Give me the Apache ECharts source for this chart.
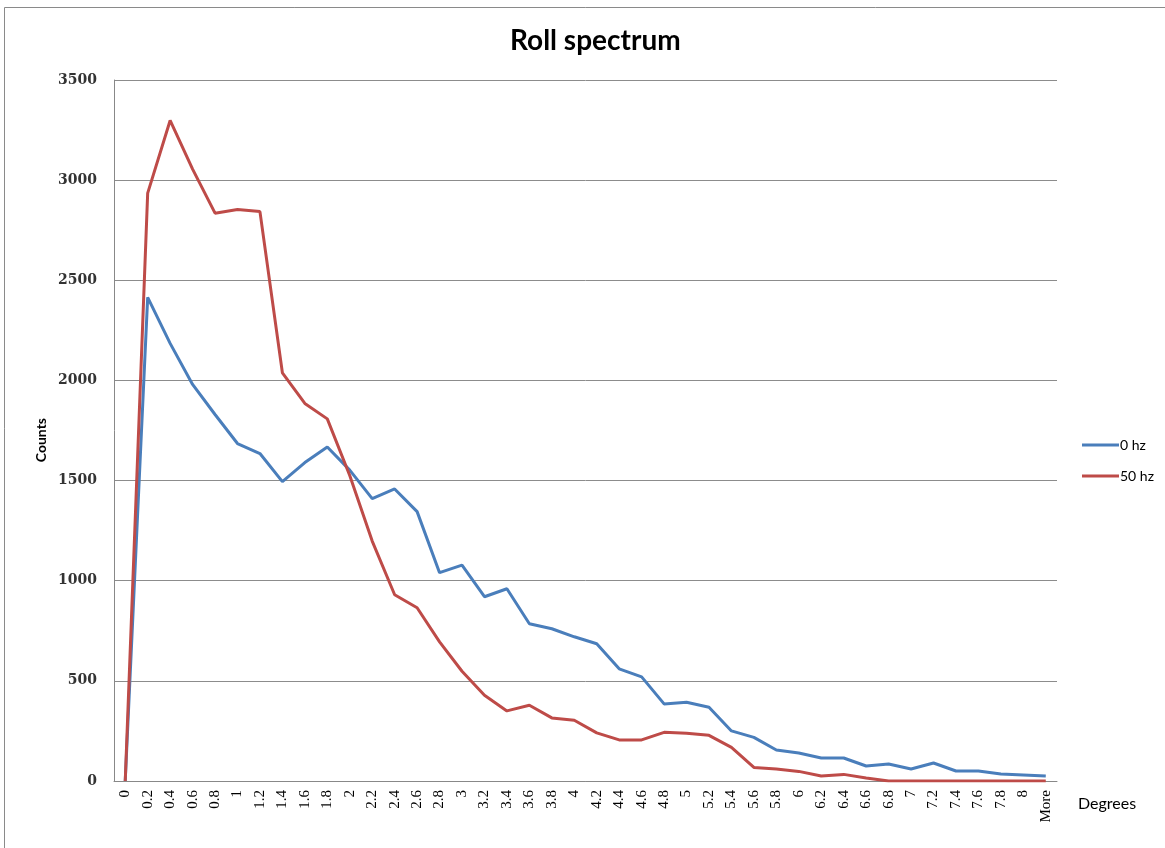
<!DOCTYPE html>
<html>
<head>
<meta charset="utf-8">
<script src="https://cdn.jsdelivr.net/npm/echarts@6/dist/echarts.min.js"></script>
<style>html,body{margin:0;padding:0;background:#fff;}#c{width:1165px;height:848px;}</style>
</head>
<body>
<div id="c"></div>
<script>
const categories = ["0","0.2","0.4","0.6","0.8","1","1.2","1.4","1.6","1.8","2","2.2","2.4","2.6","2.8","3","3.2","3.4","3.6","3.8","4","4.2","4.4","4.6","4.8","5","5.2","5.4","5.6","5.8","6","6.2","6.4","6.6","6.8","7","7.2","7.4","7.6","7.8","8","More"];
const hz0 = [0,2415,2185,1980,1830,1685,1635,1495,1590,1668,1552,1410,1458,1345,1040,1078,920,960,785,760,720,685,560,520,385,393,368,250,218,155,140,115,115,75,85,60,90,50,50,35,30,25];
const hz50 = [0,2935,3298,3055,2835,2853,2843,2038,1885,1808,1525,1198,930,865,695,548,428,350,378,315,303,240,205,205,243,238,228,168,68,60,48,25,33,15,0,0,0,0,0,0,0,0];
const yTicks = {min:0, max:3500, interval:500};

const chart = echarts.init(document.getElementById('c'));
chart.setOption({
  backgroundColor: '#fff',
  animation: false,
  title: {
    text: 'Roll spectrum', left: 505, top: 22,
    textStyle: {fontFamily: 'Lato', fontSize: 28, fontWeight: 'bold', color: '#000'}
  },
  legend: {
    orient: 'vertical', left: 1077, top: 433,
    itemWidth: 37, itemHeight: 3, itemGap: 17, icon: 'rect',
    textStyle: {fontFamily: 'Lato', fontSize: 14, color: '#000', padding:[0,0,0,-4]},
    data: ['0 hz','50 hz']
  },
  grid: {left: 114, right: 108, top: 80, bottom: 67, containLabel: false},
  xAxis: {
    type: 'category', data: categories, boundaryGap: true,
    axisLine: {lineStyle: {color: '#888', width: 1}},
    axisTick: {show: false},
    axisLabel: {rotate: 90, margin: 9, interval: 0, fontFamily: 'Liberation Serif', fontSize: 15, color: '#000'}
  },
  yAxis: {
    type: 'value', min: yTicks.min, max: yTicks.max, interval: yTicks.interval,
    axisLine: {show: true, lineStyle: {color: '#888'}},
    axisTick: {show: false},
    splitLine: {lineStyle: {color: '#8c8c8c', width: 1}},
    axisLabel: {margin: 17, fontFamily: 'DejaVu Serif', fontWeight: 'bold', fontSize: 14, color: '#333', formatter: v => String(v)}
  },
  series: [
    {name: '0 hz', type: 'line', data: hz0, symbol: 'none', lineStyle: {color: '#4a7ebb', width: 3}, itemStyle: {color: '#4a7ebb'}},
    {name: '50 hz', type: 'line', data: hz50, symbol: 'none', lineStyle: {color: '#be4b48', width: 3}, itemStyle: {color: '#be4b48'}}
  ],
  graphic: [
    {type: 'rect', shape: {x: 4.5, y: 7.5, width: 1170, height: 850}, style: {fill: 'none', stroke: '#8a8a8a', lineWidth: 1}, silent: true},
    {type: 'text', left: 1078, top: 796, style: {text: 'Degrees', fontFamily: 'Lato', fontSize: 16, fill: '#000'}},
    {type: 'text', left: 34, top: 418, rotation: Math.PI/2, style: {text: 'Counts', fontFamily: 'Lato', fontSize: 14, fontWeight: 'bold', fill: '#000'}}
  ]
});
</script>
</body>
</html>
